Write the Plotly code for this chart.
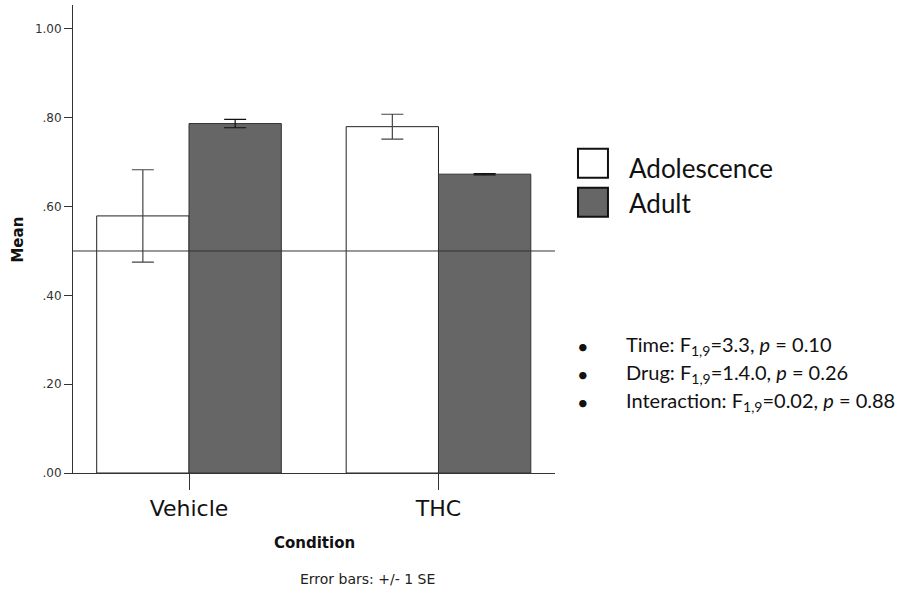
import plotly.graph_objects as go

# ---- data ----
conditions = ["Vehicle", "THC"]
adolescence_mean = [0.579, 0.780]
adolescence_se = [0.104, 0.028]
adult_mean = [0.787, 0.673]
adult_se = [0.0095, 0.0015]
chance_level = 0.5
y_tick_vals = [0.0, 0.2, 0.4, 0.6, 0.8, 1.0]
y_tick_text = [".00", ".20", ".40", ".60", ".80", "1.00"]
stats_lines = [
    "Time: F<sub>1,9</sub>=3.3, <i>p</i> = 0.10",
    "Drug: F<sub>1,9</sub>=1.4.0, <i>p</i> = 0.26",
    "Interaction: F<sub>1,9</sub>=0.02, <i>p</i> = 0.88",
]
legend_names = ["Adolescence", "Adult"]
legend_colors = ["#ffffff", "#666666"]

W, H = 902, 595
ML, MR, MT, MB = 72.7, 347, 5, 121.5
PW, PH = W - ML - MR, H - MT - MB

def px_x(x):
    return (x - ML) / PW

def px_y(y):
    return (H - MB - y) / PH

fig = go.Figure()
fig.add_trace(go.Bar(
    x=conditions, y=adolescence_mean, name=legend_names[0],
    marker=dict(color=legend_colors[0], line=dict(color="#222222", width=1)),
    error_y=dict(type="data", array=adolescence_se, visible=True,
                 color="#444444", thickness=1.2, width=11),
    showlegend=False,
))
fig.add_trace(go.Bar(
    x=conditions, y=adult_mean, name=legend_names[1],
    marker=dict(color=legend_colors[1], line=dict(color="#333333", width=1)),
    error_y=dict(type="data", array=adult_se, visible=True,
                 color="#111111", thickness=1.2, width=11),
    showlegend=False,
))

shapes = [
    dict(type="line", xref="paper", yref="y", x0=0, x1=1,
         y0=chance_level, y1=chance_level,
         line=dict(color="#333333", width=1), layer="above"),
]
# legend boxes
box_tops = [149, 188]
for top, col in zip(box_tops, legend_colors):
    shapes.append(dict(type="rect", xref="paper", yref="paper",
                       x0=px_x(578), x1=px_x(608),
                       y0=px_y(top + 29), y1=px_y(top),
                       fillcolor=col, line=dict(color="#111111", width=2)))

annotations = []
legend_text_y = [168, 203]
for name, ty in zip(legend_names, legend_text_y):
    annotations.append(dict(text=name, xref="paper", yref="paper",
                            x=px_x(627), y=px_y(ty), xanchor="left", yanchor="middle",
                            showarrow=False,
                            font=dict(family="Lato", size=26, color="#111111")))
stats_y = [346, 374, 402]
for line, sy in zip(stats_lines, stats_y):
    annotations.append(dict(text="•", xref="paper", yref="paper",
                            x=px_x(583), y=px_y(sy), xanchor="center", yanchor="middle",
                            showarrow=False,
                            font=dict(family="Lato", size=20, color="#111111")))
    annotations.append(dict(text=line, xref="paper", yref="paper",
                            x=px_x(624), y=px_y(sy), xanchor="left", yanchor="middle",
                            showarrow=False,
                            font=dict(family="Lato", size=20, color="#111111")))
annotations += [
    dict(text="<b>Condition</b>", xref="paper", yref="paper",
         x=px_x(314), y=px_y(544), xanchor="center", yanchor="middle", showarrow=False,
         font=dict(family="DejaVu Sans", size=15, color="#111111")),
    dict(text="Error bars: +/- 1 SE", xref="paper", yref="paper",
         x=px_x(367), y=px_y(580), xanchor="center", yanchor="middle", showarrow=False,
         font=dict(family="DejaVu Sans", size=14, color="#222222")),
    dict(text="<b>Mean</b>", xref="paper", yref="paper", textangle=-90,
         x=px_x(17.5), y=px_y(240), xanchor="center", yanchor="middle", showarrow=False,
         font=dict(family="DejaVu Sans", size=15, color="#111111")),
]

fig.update_layout(
    width=W, height=H,
    margin=dict(l=ML, r=MR, t=MT, b=MB, pad=0),
    paper_bgcolor="white", plot_bgcolor="white",
    barmode="group", bargap=0.26, bargroupgap=0,
    shapes=shapes, annotations=annotations,
    xaxis=dict(range=[-0.465, 1.467], showline=True, linecolor="#333333", linewidth=1,
               ticks="outside", ticklen=16, tickcolor="#333333", showgrid=False,
               zeroline=False,
               tickfont=dict(family="DejaVu Sans", size=22, color="#111111")),
    yaxis=dict(range=[0, 1.054], showline=True, linecolor="#333333", linewidth=1,
               ticks="outside", ticklen=8, tickcolor="#333333", showgrid=False,
               zeroline=False, tickvals=y_tick_vals, ticktext=y_tick_text,
               tickfont=dict(family="DejaVu Sans", size=12, color="#333333")),
)

fig.write_html("out.html")
